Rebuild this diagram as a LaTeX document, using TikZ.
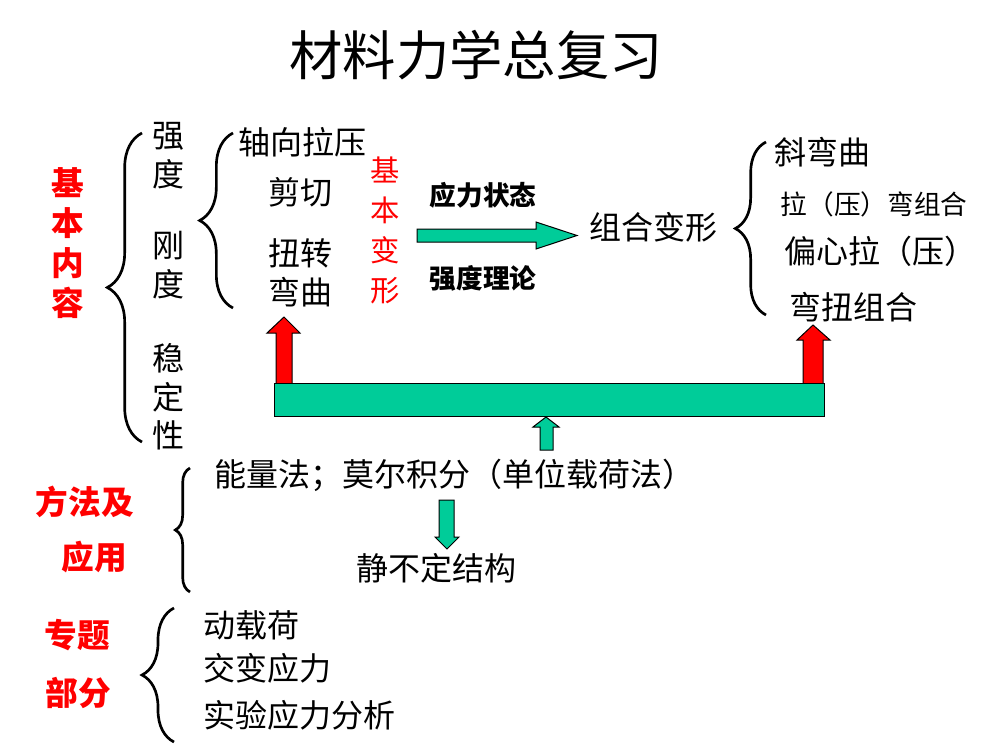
\documentclass[tikz,border=0pt]{standalone}
\usepackage{fontspec}
\setmainfont{Noto Sans CJK SC}
\usetikzlibrary{decorations.pathreplacing}
\definecolor{arrowgreen}{RGB}{0,204,153}
\definecolor{arrowred}{RGB}{255,0,0}
\tikzset{every picture/.style={line width=0.75pt}}
\tikzset{
  curly/.style={decorate,decoration={brace,amplitude=#1,aspect=0.5},line width=2pt},
  txt/.style={font=\fontsize{24}{29}\selectfont,inner sep=0pt,align=center},
  smalltxt/.style={font=\fontsize{20}{24}\selectfont,inner sep=0pt},
  boldtxt/.style={font=\fontsize{20}{24}\selectfont\bfseries,inner sep=0pt},
  redtxt/.style={font=\fontsize{24.5}{29.8}\selectfont\bfseries,text=arrowred,inner sep=0pt,align=center},
}

\begin{document}
\begin{tikzpicture}[x=0.75pt,y=0.75pt,yscale=-1,xscale=1]
\useasboundingbox (0,0) rectangle (999,750); %set diagram to 999 x 750

% Title
\draw (476,55) node (title) [font=\fontsize{40}{48}\selectfont,inner sep=0pt] {材料力学总复习};

% Text Node
\draw (68,243) node (jbnr) [redtxt] {基\\本\\内\\容};
%Curly Brace
\draw [curly=26pt] (142,442) -- (142,133);
% Text Node
\draw (168,156) node (qd) [txt] {强\\度};
\draw (168,265) node (gd) [txt] {刚\\度};
\draw (168,397) node (wdx) [txt] {稳\\定\\性};
%Curly Brace
\draw [curly=25pt] (233,308) -- (233,133);
% Text Node
\draw (302,142) node (zxlt) [txt] {轴向拉压};
\draw (300,192) node (jq) [txt] {剪切};
\draw (300,253) node (nz) [txt] {扭转};
\draw (300,292) node (wq) [txt] {弯曲};
\draw (385,230) node (jbbx) [txt,font=\fontsize{22}{30}\selectfont,text=arrowred] {基\\本\\变\\形};

%Right Arrow
\draw [fill=arrowgreen] (417,229) -- (536,229) -- (536,222) -- (577,235.5) -- (536,249) -- (536,242) -- (417,242) -- cycle ;
% Text Node
\draw (483,195) node (ylzt) [boldtxt] {应力状态};
\draw (483,278) node (qdll) [boldtxt] {强度理论};
\draw (653,227) node (zhbx) [txt] {组合变形};

%Curly Brace
\draw [curly=23pt] (766,315) -- (766,142);
% Text Node
\draw (822,152) node (xwq) [txt] {斜弯曲};
\draw (874,204) node (lwzh) [smalltxt] {拉（压）弯组合};
\draw (880,251) node (pxl) [txt] {偏心拉（压）};
\draw (853,307) node (wnzh) [txt] {弯扭组合};

%Up Arrow
\draw [fill=arrowred] (276,384) -- (276,333) -- (267,333) -- (284,317) -- (300,333) -- (292,333) -- (292,384) -- cycle ;
%Up Arrow
\draw [fill=arrowred] (803,384) -- (803,340) -- (797,340) -- (813,325) -- (830,340) -- (823,340) -- (823,384) -- cycle ;
%Bar
\draw [fill=arrowgreen] (274,383) rectangle (824,416) ;
%Up Arrow
\draw [fill=arrowgreen] (540,450) -- (540,427) -- (533,427) -- (546,417) -- (559,427) -- (553,427) -- (553,450) -- cycle ;

% Text Node
\draw (85,502) node (ffj) [redtxt] {方法及};
\draw (94,557) node (yy) [redtxt] {应用};
%Curly Brace
\draw [curly=11pt] (190,592) -- (190,468);
% Text Node
\draw (454,475) node (nlf) [txt] {能量法；莫尔积分（单位载荷法）};
%Down Arrow
\draw [fill=arrowgreen] (439,500) -- (454,500) -- (454,537) -- (459,537) -- (447,549) -- (435,537) -- (439,537) -- cycle ;
\draw (436,568) node (jbd) [txt] {静不定结构};

% Text Node
\draw (77,635) node (ztt) [redtxt] {专题};
\draw (78,693) node (bf) [redtxt] {部分};
%Curly Brace
\draw [curly=24pt] (174,742) -- (174,608);
% Text Node
\draw (203,625) node (dzh) [txt,anchor=west] {动载荷};
\draw (203,668) node (jbyl) [txt,anchor=west] {交变应力};
\draw (203,715) node (syfx) [txt,anchor=west] {实验应力分析};

\end{tikzpicture}
\end{document}
